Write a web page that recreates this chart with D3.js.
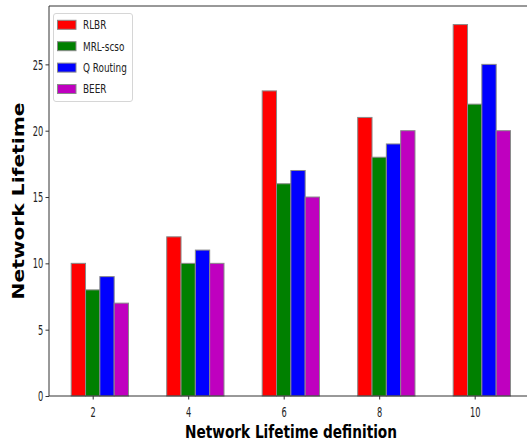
<!DOCTYPE html>
<html lang="en">
<head>
<meta charset="UTF-8">
<script src="https://d3js.org/d3.v7.min.js"></script>
<style>
  body{ margin:0; background:#fff; }
  svg{ display:block; overflow:hidden; }
  .tick text{ font-family:"DejaVu Sans",sans-serif; font-size:14.5px; fill:#222; }
</style>
</head>
<body>
<svg id="chart" width="527" height="446"></svg>
<script>
var categories = [2, 4, 6, 8, 10];
var seriesNames = ["RLBR", "MRL-scso", "Q Routing", "BEER"];
var rlbr = [10, 12, 23, 21, 28];
var mrl = [8, 10, 16, 18, 22];
var qrouting = [9, 11, 17, 19, 25];
var beer = [7, 10, 15, 20, 20];
var yTicks = [0, 5, 10, 15, 20, 25];
var colors = ["#ff0000", "#008000", "#0000ff", "#bf00bf"];

var series = [rlbr, mrl, qrouting, beer];
var barW = 0.3;
var offsets = [-0.3, 0, 0.3, 0.6];

var svg = d3.select("#chart");
// plot box (right side runs past the picture edge, as in the reference)
var pLeft = 49, pTop = 6, pBottom = 396, pRight = 532.7;
var squeeze = 0.57; // the source picture is squashed sideways

var x = d3.scaleLinear().domain([1.085, 11.215]).range([pLeft, pRight]);
var y = d3.scaleLinear().domain([0, 29.4]).range([pBottom, pTop]);

// bars
series.forEach(function(vals, s){
  svg.append("g")
    .selectAll("rect")
    .data(vals)
    .enter()
    .append("rect")
    .attr("x", function(d, i){ return x(categories[i] + offsets[s] - barW/2); })
    .attr("width", x(barW) - x(0))
    .attr("y", function(d){ return y(d); })
    .attr("height", function(d){ return y(0) - y(d); })
    .attr("fill", colors[s])
    .attr("stroke", "#8a8a8a")
    .attr("stroke-width", 1);
});

// axes
var xAxis = svg.append("g")
  .attr("transform", "translate(0," + pBottom + ")")
  .call(d3.axisBottom(x).tickValues(categories).tickSize(3.5).tickPadding(6.9).tickSizeOuter(0));
var yAxis = svg.append("g")
  .attr("transform", "translate(" + pLeft + ",0)")
  .call(d3.axisLeft(y).tickValues(yTicks).tickSize(3.5).tickPadding(4).tickSizeOuter(0));
xAxis.select(".domain").remove();
yAxis.select(".domain").remove();
svg.selectAll(".tick line").attr("stroke", "#333");
xAxis.selectAll(".tick text").attr("transform", "scale(" + squeeze + ",1)");
yAxis.selectAll(".tick text")
  .attr("x", -5.7 / squeeze)
  .attr("transform", "scale(" + squeeze + ",1)");

// spines: left, top, bottom (right one falls outside the picture)
var spines = [
  [pLeft, pTop, pLeft, pBottom],
  [pLeft, pTop, pRight, pTop],
  [pLeft, pBottom, pRight, pBottom]
];
svg.append("g").selectAll("line")
  .data(spines)
  .enter()
  .append("line")
  .attr("x1", function(d){ return d[0]; })
  .attr("y1", function(d){ return d[1]; })
  .attr("x2", function(d){ return d[2]; })
  .attr("y2", function(d){ return d[3]; })
  .attr("stroke", "#333")
  .attr("stroke-width", 1);

// legend
var lg = svg.append("g");
lg.append("rect")
  .attr("x", 53.5).attr("y", 13.5).attr("width", 79).attr("height", 88)
  .attr("rx", 2.5).attr("fill", "#fff").attr("fill-opacity", 0.8)
  .attr("stroke", "#d6d6d6").attr("stroke-width", 1);
seriesNames.forEach(function(name, i){
  var cy = 24.8 + i * 21.4;
  lg.append("rect")
    .attr("x", 57.5).attr("y", cy - 4.5).attr("width", 18.5).attr("height", 9)
    .attr("fill", colors[i]).attr("stroke", "#8a8a8a").attr("stroke-width", 1);
  lg.append("text")
    .attr("x", 83 / 0.74).attr("y", cy + 4.5)
    .attr("transform", "scale(0.74,1)")
    .attr("font-family", "DejaVu Sans, sans-serif")
    .attr("font-size", 12)
    .attr("fill", "#222")
    .text(name);
});

// axis labels
svg.append("text")
  .attr("x", 291).attr("y", 438)
  .attr("text-anchor", "middle")
  .attr("font-family", "DejaVu Sans Condensed, DejaVu Sans, sans-serif")
  .attr("font-weight", "bold")
  .attr("font-size", 17)
  .attr("textLength", 212)
  .attr("lengthAdjust", "spacingAndGlyphs")
  .text("Network Lifetime definition");

svg.append("text")
  .attr("transform", "translate(24,201) rotate(-90)")
  .attr("text-anchor", "middle")
  .attr("font-family", "DejaVu Sans, sans-serif")
  .attr("font-weight", "bold")
  .attr("font-size", 16)
  .attr("textLength", 197)
  .attr("lengthAdjust", "spacingAndGlyphs")
  .text("Network Lifetime");
</script>
</body>
</html>
